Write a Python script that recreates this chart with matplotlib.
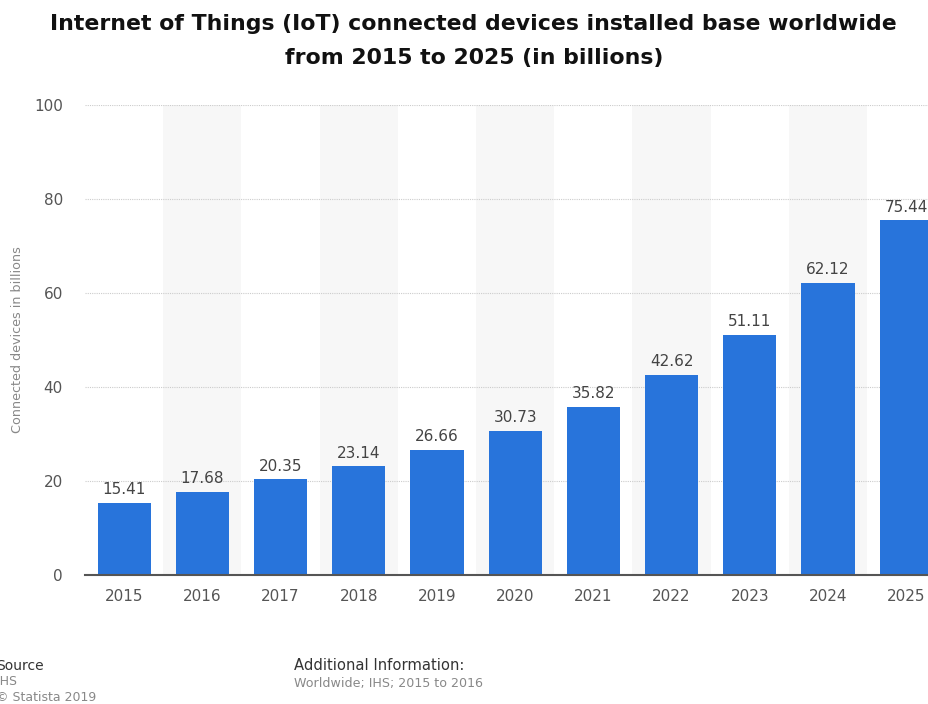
import numpy as np
import matplotlib.pyplot as plt

years = ["2015", "2016", "2017", "2018", "2019", "2020",
         "2021", "2022", "2023", "2024", "2025"]
devices = [15.41, 17.68, 20.35, 23.14, 26.66, 30.73,
           35.82, 42.62, 51.11, 62.12, 75.44]
y_ticks = [0, 20, 40, 60, 80, 100]

BLUE = "#2874db"

plt.rcParams["font.family"] = "DejaVu Sans"

fig = plt.figure(figsize=(9.29, 7.04), dpi=100)
# axes run past the right edge on purpose, the last bar is cut off
ax = fig.add_axes([0.0915, 0.1832, 0.926, 0.6677])

x = np.arange(len(years))

# alternating shaded columns behind the bars
for i in x:
    if i % 2 == 1:
        ax.axvspan(i - 0.5, i + 0.5, color="#f7f7f7", zorder=0, lw=0)

bars = ax.bar(x, devices, width=0.68, color=BLUE, zorder=3)
for b, v in zip(bars, devices):
    ax.text(b.get_x() + b.get_width() / 2, v + 1.2, f"{v:.2f}",
            ha="center", va="bottom", fontsize=11, color="#444444", zorder=4)

ax.set_xlim(-0.5, len(years) - 0.5)
ax.set_ylim(0, 100)
ax.set_yticks(y_ticks)
ax.set_xticks(x)
ax.set_xticklabels(years)
ax.tick_params(axis="both", length=0, labelsize=11, colors="#555555")
ax.tick_params(axis="x", pad=10)
ax.tick_params(axis="y", pad=16)

ax.yaxis.grid(True, linestyle=(0, (1, 1)), color="#cccccc", lw=0.8, zorder=1)
ax.set_axisbelow(True)
for side in ["top", "right", "left"]:
    ax.spines[side].set_visible(False)
ax.spines["bottom"].set_color("#555555")
ax.spines["bottom"].set_linewidth(1.5)
ax.spines["bottom"].set_zorder(5)

ax.set_ylabel("Connected devices in billions", fontsize=9.2, color="#888888")
ax.yaxis.set_label_coords(-0.071, 0.5)

fig.text(0.51, 0.942, "Internet of Things (IoT) connected devices installed base worldwide\n"
         "from 2015 to 2025 (in billions)",
         ha="center", va="center", fontsize=15.8, fontweight="bold",
         color="#111111", linespacing=1.9)

# footer
fig.text(-0.004, 0.054, "Source", fontsize=10, color="#333333", va="center")
fig.text(-0.004, 0.032, "IHS", fontsize=9, color="#888888", va="center")
fig.text(-0.004, 0.009, "© Statista 2019", fontsize=9, color="#888888", va="center")
fig.text(0.316, 0.054, "Additional Information:", fontsize=10.6, color="#333333", va="center")
fig.text(0.316, 0.029, "Worldwide; IHS; 2015 to 2016", fontsize=9.1, color="#888888",
         va="center")

fig.savefig("out.png", dpi=100)
